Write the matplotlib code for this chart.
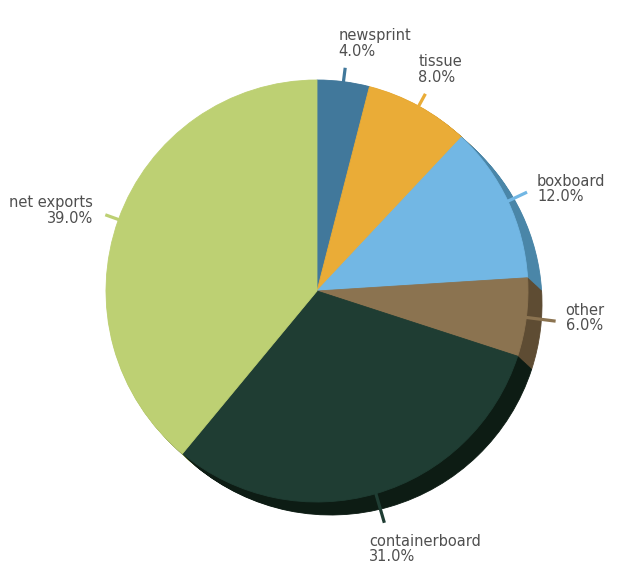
import matplotlib
matplotlib.use('Agg')
import matplotlib.pyplot as plt
import numpy as np

categories = ['newsprint', 'tissue', 'boxboard', 'other', 'containerboard', 'net exports']
shares = [4.0, 8.0, 12.0, 6.0, 31.0, 39.0]
face_colors = ['#41789b', '#eaac37', '#72b7e4', '#8b7350', '#1f3d33', '#bdd073']
side_colors = ['#2f5a74', '#b07f22', '#4a86a8', '#5e4c33', '#0d1c14', '#8e9c52']

W, H = 624, 576
fig = plt.figure(figsize=(W / 100, H / 100), dpi=100)
ax = fig.add_axes([0, 0, 1, 1])

cx, cy = 317, H - 291
R = 211
dx, dy = 14, -13
steps = 16

# extruded side (depth)
for k in range(steps, 0, -1):
    f = k / steps
    wedges, _ = ax.pie(shares, center=(cx + dx * f, cy + dy * f), radius=R,
                       colors=side_colors, startangle=90, counterclock=False,
                       frame=True)
    for w, c in zip(wedges, side_colors):
        w.set_edgecolor(c)
        w.set_linewidth(0.6)

# top face
wedges, _ = ax.pie(shares, center=(cx, cy), radius=R, colors=face_colors,
                   startangle=90, counterclock=False, frame=True)
for w, c in zip(wedges, face_colors):
    w.set_edgecolor(c)
    w.set_linewidth(0.6)

for w, name, val, c in zip(wedges, categories, shares, face_colors):
    a = np.deg2rad((w.theta1 + w.theta2) / 2)
    ux, uy = np.cos(a), np.sin(a)
    proj = max(0.0, dx * ux + dy * uy)
    r1, r2 = R - 1, R + 14 + proj
    xs, ys = cx + r1 * ux, cy + r1 * uy
    xe, ye = cx + r2 * ux, cy + r2 * uy
    ax.plot([xs, xe], [ys, ye], color=c, lw=2.3, solid_capstyle='butt', zorder=5)
    deg = np.rad2deg(np.arctan2(uy, ux))
    label = f"{name}\n{val:.1f}%"
    if 45 < deg < 135:
        tx, ty, ha, va = xe - 7, ye + 9, 'left', 'bottom'
    elif -45 <= deg <= 45:
        tx, ty, ha, va = xe + 10, ye + 3, 'left', 'center'
    elif -135 <= deg < -45:
        tx, ty, ha, va = xe - 15, ye - 11, 'left', 'top'
    else:
        tx, ty, ha, va = xe - 12, ye + 4, 'right', 'center'
    ax.text(tx, ty, label, ha=ha, va=va, multialignment=ha, fontsize=10.5,
            color='#4f4f4f', linespacing=1.05, family='DejaVu Sans', zorder=6)

ax.set_xlim(0, W)
ax.set_ylim(0, H)
ax.set_aspect('equal')
ax.axis('off')
fig.savefig('out.png', dpi=100, facecolor='white')
